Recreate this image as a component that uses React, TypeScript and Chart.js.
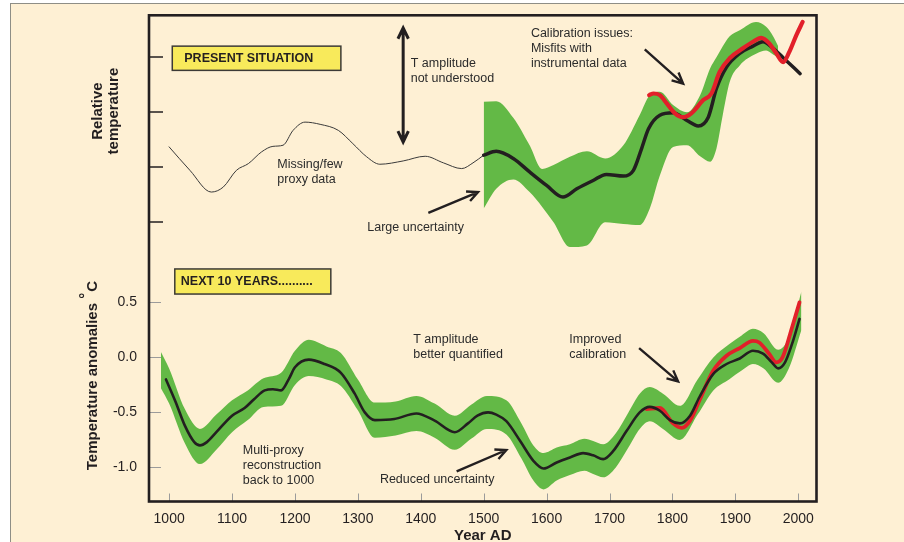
import React, { useEffect, useRef } from 'react';
import { Chart, registerables } from 'chart.js';

Chart.register(...registerables);

const FAMILY = '"Liberation Sans", Arial, Helvetica, sans-serif';
Chart.defaults.font.family = FAMILY;

// ---------- axis ticks ----------
const yearTicks = [1000, 1100, 1200, 1300, 1400, 1500, 1600, 1700, 1800, 1900, 2000];
const lowerTicks = [-1.0, -0.5, 0.0, 0.5];
const upperTicks = [0, 1, 2, 3];

// ---------- lower panel (temperature anomalies, °C) ----------
const lowerMeanYears = [995, 1010, 1025, 1040, 1049, 1060, 1075, 1100, 1120, 1135, 1152, 1165, 1178, 1190, 1200, 1222, 1247, 1273, 1295, 1311, 1327, 1358, 1393, 1422, 1454, 1475, 1490, 1507, 1520, 1536, 1558, 1579, 1595, 1616, 1637, 1658, 1674, 1690, 1706, 1727, 1748, 1764, 1780, 1796, 1812, 1828, 1843, 1865, 1886, 1907, 1928, 1944, 1958, 1968, 1979, 1990, 2002];
const lowerMean = [-0.2, -0.4, -0.62, -0.77, -0.8, -0.77, -0.68, -0.53, -0.46, -0.38, -0.3, -0.29, -0.3, -0.2, -0.09, -0.02, -0.06, -0.14, -0.33, -0.5, -0.57, -0.56, -0.51, -0.575, -0.68, -0.6, -0.53, -0.5, -0.52, -0.58, -0.76, -0.94, -1.01, -0.955, -0.91, -0.87, -0.89, -0.925, -0.85, -0.67, -0.5, -0.45, -0.485, -0.57, -0.6, -0.53, -0.36, -0.15, -0.06, -0.01, 0.06, 0.035, -0.045, -0.1, -0.045, 0.12, 0.35];

const lowerBandYears = [987, 1000, 1025, 1049, 1075, 1100, 1125, 1150, 1178, 1200, 1222, 1250, 1273, 1300, 1327, 1360, 1393, 1422, 1454, 1480, 1505, 1536, 1560, 1579, 1595, 1616, 1637, 1660, 1674, 1690, 1710, 1730, 1748, 1764, 1785, 1812, 1840, 1865, 1890, 1910, 1928, 1945, 1968, 1985, 2005];
const lowerBandHigh = [0.05, -0.1, -0.47, -0.65, -0.52, -0.39, -0.3, -0.19, -0.14, 0.06, 0.16, 0.1, 0.04, -0.2, -0.41, -0.4, -0.35, -0.42, -0.53, -0.43, -0.35, -0.39, -0.6, -0.8, -0.87, -0.82, -0.79, -0.74, -0.76, -0.79, -0.69, -0.5, -0.33, -0.27, -0.33, -0.44, -0.2, 0.0, 0.12, 0.2, 0.26, 0.22, 0.07, 0.18, 0.6];
const lowerBandLow = [-0.28, -0.42, -0.78, -0.97, -0.84, -0.68, -0.57, -0.45, -0.44, -0.25, -0.17, -0.2, -0.26, -0.48, -0.73, -0.71, -0.67, -0.73, -0.84, -0.74, -0.65, -0.7, -0.92, -1.12, -1.2, -1.12, -1.07, -1.03, -1.06, -1.09, -1.0, -0.82, -0.65, -0.58, -0.65, -0.75, -0.52, -0.3, -0.2, -0.12, -0.06, -0.1, -0.23, -0.1, 0.25];

const lowerRedYears = [1759, 1780, 1801, 1815, 1828, 1843, 1865, 1886, 1907, 1928, 1938, 1954, 1965, 1975, 1990, 2002];
const lowerRed = [-0.47, -0.46, -0.6, -0.64, -0.575, -0.39, -0.12, 0.015, 0.085, 0.15, 0.136, 0.03, -0.045, 0.0, 0.27, 0.5];

// ---------- upper panel (relative temperature) ----------
const upperThinYears = [1000, 1033, 1067, 1086, 1107, 1126, 1147, 1165, 1181, 1197, 1216, 1240, 1269, 1292, 1314, 1335, 1372, 1407, 1436, 1465, 1483, 1500];
const upperThin = [1.37, 0.945, 0.55, 0.64, 0.945, 1.067, 1.28, 1.38, 1.4, 1.67, 1.82, 1.78, 1.67, 1.43, 1.19, 1.055, 1.115, 1.2, 1.08, 0.976, 1.08, 1.22];

const upperMeanYears = [1500, 1520, 1547, 1573, 1600, 1626, 1648, 1674, 1695, 1722, 1738, 1751, 1762, 1780, 1801, 1823, 1841, 1857, 1870, 1886, 1907, 1928, 1944, 1960, 1976, 2003];
const upperMean = [1.22, 1.29, 1.16, 0.915, 0.67, 0.46, 0.61, 0.76, 0.87, 0.84, 0.945, 1.34, 1.7, 1.945, 1.99, 1.85, 1.75, 1.91, 2.43, 2.82, 3.07, 3.2, 3.28, 3.16, 2.99, 2.7];

const upperBandYears = [1500, 1520, 1547, 1573, 1593, 1611, 1637, 1664, 1693, 1722, 1748, 1764, 1780, 1801, 1823, 1844, 1860, 1870, 1880, 1891, 1907, 1933, 1949, 1960, 1968];
const upperBandHigh = [2.19, 2.2, 1.9, 1.4, 0.97, 1.04, 1.19, 1.29, 1.16, 1.4, 1.95, 2.31, 2.37, 2.13, 2.0, 2.31, 2.8, 3.0, 3.2, 3.38, 3.49, 3.64, 3.55, 3.38, 3.2];
const upperBandLow = [0.25, 0.61, 0.78, 0.55, 0.28, 0.0, -0.45, -0.42, 0.0, -0.03, -0.05, 0.25, 0.85, 1.37, 1.4, 1.2, 1.1, 1.34, 1.95, 2.55, 2.85, 3.06, 3.12, 3.05, 3.0];

const upperRedYears = [1763, 1770, 1780, 1791, 1804, 1817, 1830, 1849, 1862, 1875, 1891, 1912, 1928, 1941, 1954, 1965, 1976, 1986, 1997, 2007];
const upperRed = [2.31, 2.34, 2.31, 2.16, 1.98, 1.91, 1.98, 2.22, 2.34, 2.73, 2.98, 3.16, 3.28, 3.35, 3.25, 3.07, 2.91, 3.1, 3.4, 3.64];

// ---------- annotations (data coordinates) ----------
const upperNotes = [
  { lines: ['T amplitude', 'not understood'], x: 1384, y: 2.82 },
  { lines: ['Missing/few', 'proxy data'], x: 1172, y: 0.98 },
  { lines: ['Large uncertainty'], x: 1315, y: -0.16 },
  { lines: ['Calibration issues:', 'Misfits with', 'instrumental data'], x: 1575, y: 3.37 },
];
const lowerNotes = [
  { lines: ['T amplitude', 'better quantified'], x: 1388, y: 0.127 },
  { lines: ['Multi-proxy', 'reconstruction', 'back to 1000'], x: 1117, y: -0.878 },
  { lines: ['Reduced uncertainty'], x: 1335, y: -1.145 },
  { lines: ['Improved', 'calibration'], x: 1636, y: 0.127 },
];
const upperArrows = [
  { from: [1412, 0.17], to: [1491, 0.55] },
  { from: [1756, 3.14], to: [1817, 2.52] },
];
const lowerArrows = [
  { from: [1457, -1.036], to: [1536, -0.842] },
  { from: [1747, 0.085], to: [1809, -0.218] },
];

const CREAM = '#FEF0D4';
const GREEN = '#63B946';
const RED = '#E2202A';
const INK = '#231F20';
const TEXT = '#2b2b2b';
const YELLOW = '#F8EA5B';

const pts = (xs: number[], ys: number[]) => xs.map((x, i) => ({ x, y: ys[i] }));

function arrowLine(ctx: CanvasRenderingContext2D, x1: number, y1: number, x2: number, y2: number, head: number, both = false) {
  const a = Math.atan2(y2 - y1, x2 - x1);
  ctx.beginPath();
  ctx.moveTo(x1, y1);
  ctx.lineTo(x2, y2);
  const tip = (x: number, y: number, ang: number) => {
    ctx.moveTo(x - head * Math.cos(ang - 0.45), y - head * Math.sin(ang - 0.45));
    ctx.lineTo(x, y);
    ctx.lineTo(x - head * Math.cos(ang + 0.45), y - head * Math.sin(ang + 0.45));
  };
  tip(x2, y2, a);
  if (both) tip(x1, y1, a + Math.PI);
  ctx.stroke();
}

const annotPlugin = {
  id: 'annotations',
  afterDraw(chart: any) {
    const { ctx, chartArea: ca, scales } = chart;
    const sx = scales.x, sy = scales.y, sy2 = scales.y2;
    ctx.save();

    // inward tick marks
    ctx.lineWidth = 1;
    ctx.strokeStyle = '#9b9b9b';
    ctx.beginPath();
    yearTicks.forEach((t) => {
      const px = Math.round(sx.getPixelForValue(t)) + 0.5;
      ctx.moveTo(px, ca.bottom);
      ctx.lineTo(px, ca.bottom - 8);
    });
    lowerTicks.forEach((t) => {
      const py = Math.round(sy.getPixelForValue(t)) + 0.5;
      ctx.moveTo(ca.left, py);
      ctx.lineTo(ca.left + 12, py);
    });
    ctx.stroke();
    ctx.strokeStyle = INK;
    ctx.lineWidth = 1.5;
    ctx.beginPath();
    upperTicks.forEach((t) => {
      const py = Math.round(sy2.getPixelForValue(t));
      ctx.moveTo(ca.left, py);
      ctx.lineTo(ca.left + 14, py);
    });
    ctx.stroke();

    // frame
    ctx.lineWidth = 2.6;
    ctx.strokeStyle = INK;
    ctx.strokeRect(ca.left, ca.top, ca.right - ca.left, ca.bottom - ca.top);

    // boxes
    const box = (label: string, x1: number, x2: number, yTop: number, yBot: number, sc: any, indent: number) => {
      const l = sx.getPixelForValue(x1), r = sx.getPixelForValue(x2);
      const t = sc.getPixelForValue(yTop), b = sc.getPixelForValue(yBot);
      ctx.fillStyle = YELLOW;
      ctx.fillRect(l, t, r - l, b - t);
      ctx.lineWidth = 1.5;
      ctx.strokeStyle = '#3c3a36';
      ctx.strokeRect(l, t, r - l, b - t);
      ctx.fillStyle = INK;
      ctx.font = `bold 12.5px ${FAMILY}`;
      ctx.textAlign = 'left';
      ctx.textBaseline = 'middle';
      ctx.fillText(label, l + indent, (t + b) / 2 + 0.5);
    };
    box('PRESENT SITUATION', 1005, 1273, 3.2, 2.76, sy2, 12);
    box('NEXT 10 YEARS..........', 1009, 1257, 0.804, 0.576, sy, 6);

    // notes
    ctx.fillStyle = TEXT;
    ctx.font = `12.5px ${FAMILY}`;
    ctx.textAlign = 'left';
    ctx.textBaseline = 'alphabetic';
    const notes = (list: any[], sc: any) => list.forEach((n) => {
      const px = sx.getPixelForValue(n.x), py = sc.getPixelForValue(n.y);
      n.lines.forEach((s: string, i: number) => ctx.fillText(s, px, py + i * 15));
    });
    notes(upperNotes, sy2);
    notes(lowerNotes, sy);

    // arrows
    ctx.strokeStyle = INK;
    ctx.lineWidth = 2.4;
    ctx.lineCap = 'butt';
    ctx.lineJoin = 'miter';
    const arrows = (list: any[], sc: any) => list.forEach((a) => {
      arrowLine(ctx, sx.getPixelForValue(a.from[0]), sc.getPixelForValue(a.from[1]),
        sx.getPixelForValue(a.to[0]), sc.getPixelForValue(a.to[1]), 12);
    });
    arrows(upperArrows, sy2);
    arrows(lowerArrows, sy);
    ctx.lineWidth = 3;
    arrowLine(ctx, sx.getPixelForValue(1372), sy2.getPixelForValue(1.46), sx.getPixelForValue(1372), sy2.getPixelForValue(3.53), 12, true);

    // axis titles (rotated)
    ctx.fillStyle = INK;
    ctx.textBaseline = 'middle';
    ctx.font = `bold 15px ${FAMILY}`;
    // upper
    ctx.save();
    ctx.translate(ca.left - 51.5, sy2.getPixelForValue(2.02));
    ctx.rotate(-Math.PI / 2);
    ctx.textAlign = 'center';
    ctx.fillText('Relative', 0, 0);
    ctx.fillText('temperature', 0, 16.5);
    ctx.restore();
    // lower
    ctx.save();
    ctx.translate(ca.left - 56, sy.getPixelForValue(-0.17));
    ctx.rotate(-Math.PI / 2);
    ctx.textAlign = 'left';
    const main = 'Temperature anomalies ';
    const wMain = ctx.measureText(main).width;
    const wDeg = ctx.measureText('°').width;
    const wC = ctx.measureText('C').width;
    const start = -(wMain + wDeg + wC) / 2;
    ctx.fillText(main, start, 0);
    ctx.fillText('°', start + wMain, -7);
    ctx.fillText('C', start + wMain + wDeg + 1, 0);
    ctx.restore();

    ctx.restore();
  },
};

const line = (label: string, data: any[], color: string, width: number, order: number, yAxisID: string) => ({
  label, data, borderColor: color, borderWidth: width, order, yAxisID,
  pointRadius: 0, fill: false, tension: 0.4, cubicInterpolationMode: 'monotone' as const,
  borderCapStyle: 'round' as const, borderJoinStyle: 'round' as const,
});

export default function App() {
  const ref = useRef<HTMLCanvasElement>(null);
  useEffect(() => {
    const datasets: any[] = [
      { ...line('lower band high', pts(lowerBandYears, lowerBandHigh), GREEN, 0, 20, 'y'), fill: '+1', backgroundColor: GREEN },
      { ...line('lower band low', pts(lowerBandYears, lowerBandLow), GREEN, 0, 20, 'y') },
      { ...line('upper band high', pts(upperBandYears, upperBandHigh), GREEN, 0, 20, 'y2'), fill: '+1', backgroundColor: GREEN },
      { ...line('upper band low', pts(upperBandYears, upperBandLow), GREEN, 0, 20, 'y2') },
      line('upper sparse proxies', pts(upperThinYears, upperThin), '#3a3a3a', 1, 8, 'y2'),
      line('upper reconstruction', pts(upperMeanYears, upperMean), INK, 3.5, 7, 'y2'),
      line('upper instrumental', pts(upperRedYears, upperRed), RED, 4.2, 6, 'y2'),
      line('lower instrumental', pts(lowerRedYears, lowerRed), RED, 3.8, 9, 'y'),
      line('lower reconstruction', pts(lowerMeanYears, lowerMean), INK, 2.6, 7, 'y'),
    ];
    const chart = new Chart(ref.current as HTMLCanvasElement, {
      type: 'line',
      data: { datasets },
      options: {
        responsive: false,
        animation: false,
        layout: { padding: { left: 78, right: 87.5, top: 11.3, bottom: 0.5 } },
        plugins: { legend: { display: false }, tooltip: { enabled: false } },
        elements: { point: { radius: 0 } },
        scales: {
          x: {
            type: 'linear', min: 968, max: 2029,
            afterBuildTicks: (s: any) => { s.ticks = yearTicks.map((v) => ({ value: v })); },
            afterFit: (s: any) => { s.height = 40; s.paddingLeft = 0; s.paddingRight = 0; },
            grid: { display: false, drawTicks: false },
            border: { display: false },
            ticks: { padding: 9, color: INK, font: { size: 14 }, maxRotation: 0, autoSkip: false, callback: (v: any) => String(v) },
            title: { display: true, text: 'Year AD', color: INK, font: { size: 15, weight: 'bold', lineHeight: 0.8 }, padding: 0 },
          },
          y: {
            type: 'linear', position: 'left', min: -1.31, max: 3.11,
            afterBuildTicks: (s: any) => { s.ticks = lowerTicks.map((v) => ({ value: v })); },
            afterFit: (s: any) => { s.width = 60; s.paddingTop = 0; s.paddingBottom = 0; },
            grid: { display: false, drawTicks: false },
            border: { display: false },
            ticks: { padding: 12, color: INK, font: { size: 14 }, callback: (v: any) => Number(v).toFixed(1) },
          },
          y2: { type: 'linear', display: false, min: -5.07, max: 3.76 },
        },
      } as any,
      plugins: [annotPlugin],
    });
    return () => chart.destroy();
  }, []);

  return (
    <div style={{ position: 'absolute', left: 0, top: 0, width: 904, height: 542, background: '#ffffff', overflow: 'hidden' }}>
      <div style={{ position: 'absolute', left: 10, top: 3, width: 894, height: 539, background: CREAM, borderTop: '1px solid #8e8e86', borderLeft: '1px solid #8e8e86', boxSizing: 'border-box' }}>
        <canvas ref={ref} width={893} height={538} style={{ display: 'block', width: 893, height: 538 }} />
      </div>
    </div>
  );
}
